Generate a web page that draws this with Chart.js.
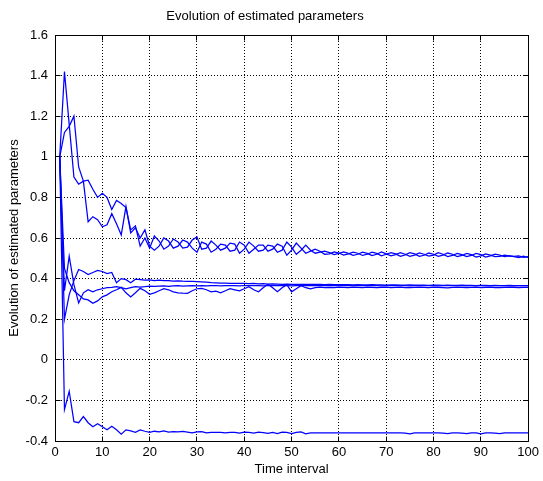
<!DOCTYPE html>
<html>
<head>
<meta charset="utf-8">
<title>Evolution of estimated parameters</title>
<script src="https://cdn.jsdelivr.net/npm/chart.js@4.4.1/dist/chart.umd.min.js"></script>
<style>
  html, body { margin: 0; padding: 0; background: #ffffff; }
  canvas { display: block; }
</style>
</head>
<body>
<canvas id="graficoParametros" width="543" height="481"></canvas>
<script>
// time steps (x axis)
const tempos = [
  1, 2, 3, 4, 5, 6, 7, 8, 9, 10, 11, 12, 13, 14, 15, 16, 17, 18, 19, 20,
  21, 22, 23, 24, 25, 26, 27, 28, 29, 30, 31, 32, 33, 34, 35, 36, 37, 38, 39, 40,
  41, 42, 43, 44, 45, 46, 47, 48, 49, 50, 51, 52, 53, 54, 55, 56, 57, 58, 59, 60,
  61, 62, 63, 64, 65, 66, 67, 68, 69, 70, 71, 72, 73, 74, 75, 76, 77, 78, 79, 80,
  81, 82, 83, 84, 85, 86, 87, 88, 89, 90, 91, 92, 93, 94, 95, 96, 97, 98, 99, 100
];

// parameter estimates
const param1 = [
  1.00, 1.42, 1.16, 0.90, 0.865, 0.88, 0.885, 0.84, 0.80, 0.82, 0.80, 0.74, 0.785, 0.77, 0.75, 0.64, 0.66, 0.56, 0.60, 0.55,
  0.61, 0.585, 0.545, 0.56, 0.595, 0.58, 0.55, 0.555, 0.59, 0.605, 0.545, 0.55, 0.585, 0.565, 0.54, 0.55, 0.575, 0.57, 0.525, 0.545,
  0.58, 0.56, 0.535, 0.54, 0.565, 0.56, 0.53, 0.54, 0.58, 0.555, 0.52, 0.54, 0.565, 0.54, 0.525, 0.53, 0.535, 0.528, 0.518, 0.524,
  0.532, 0.524, 0.515, 0.52, 0.53, 0.524, 0.513, 0.52, 0.531, 0.522, 0.512, 0.518, 0.528, 0.52, 0.51, 0.516, 0.527, 0.52, 0.511, 0.516,
  0.528, 0.52, 0.508, 0.514, 0.524, 0.518, 0.508, 0.514, 0.524, 0.518, 0.506, 0.512, 0.52, 0.516, 0.508, 0.512, 0.51, 0.512, 0.505, 0.508
];
const param2 = [
  1.00, 1.12, 1.15, 1.20, 0.95, 0.88, 0.68, 0.705, 0.69, 0.655, 0.665, 0.72, 0.67, 0.615, 0.755, 0.625, 0.65, 0.60, 0.64, 0.56,
  0.54, 0.56, 0.60, 0.585, 0.55, 0.56, 0.59, 0.58, 0.55, 0.53, 0.58, 0.57, 0.53, 0.545, 0.57, 0.565, 0.535, 0.54, 0.58, 0.565,
  0.525, 0.545, 0.565, 0.565, 0.535, 0.545, 0.57, 0.56, 0.515, 0.54, 0.575, 0.55, 0.525, 0.535, 0.545, 0.535, 0.52, 0.522, 0.532, 0.526,
  0.516, 0.522, 0.53, 0.525, 0.514, 0.52, 0.53, 0.524, 0.512, 0.52, 0.528, 0.522, 0.51, 0.517, 0.528, 0.522, 0.51, 0.515, 0.526, 0.52,
  0.51, 0.516, 0.526, 0.52, 0.508, 0.514, 0.524, 0.518, 0.506, 0.512, 0.522, 0.516, 0.508, 0.51, 0.516, 0.512, 0.508, 0.504, 0.51, 0.504
];
const param3 = [
  1.00, 0.20, 0.32, 0.39, 0.445, 0.435, 0.42, 0.43, 0.44, 0.435, 0.425, 0.43, 0.38, 0.40, 0.395, 0.38, 0.397, 0.395, 0.393, 0.394,
  0.39, 0.392, 0.39, 0.39, 0.388, 0.389, 0.387, 0.386, 0.386, 0.385, 0.384, 0.383, 0.38, 0.379, 0.378, 0.378, 0.377, 0.377, 0.376, 0.376,
  0.375, 0.376, 0.374, 0.375, 0.373, 0.374, 0.373, 0.372, 0.373, 0.372, 0.372, 0.371, 0.372, 0.371, 0.371, 0.371, 0.37, 0.371, 0.37, 0.37,
  0.37, 0.37, 0.369, 0.37, 0.369, 0.369, 0.37, 0.369, 0.369, 0.368, 0.369, 0.369, 0.368, 0.368, 0.369, 0.368, 0.368, 0.368, 0.367, 0.368,
  0.368, 0.367, 0.368, 0.367, 0.367, 0.368, 0.367, 0.367, 0.366, 0.367, 0.367, 0.366, 0.367, 0.366, 0.366, 0.367, 0.366, 0.366, 0.366, 0.366
];
const param4 = [
  1.00, 0.34, 0.51, 0.37, 0.28, 0.33, 0.345, 0.335, 0.345, 0.35, 0.355, 0.357, 0.36, 0.355, 0.35, 0.355, 0.36, 0.358, 0.36, 0.363,
  0.362, 0.363, 0.364, 0.362, 0.364, 0.365, 0.363, 0.364, 0.365, 0.364, 0.365, 0.364, 0.365, 0.366, 0.364, 0.365, 0.366, 0.365, 0.364, 0.366,
  0.365, 0.366, 0.365, 0.364, 0.366, 0.365, 0.366, 0.365, 0.366, 0.364, 0.365, 0.366, 0.365, 0.365, 0.366, 0.365, 0.365, 0.366, 0.365, 0.365,
  0.365, 0.366, 0.365, 0.365, 0.365, 0.366, 0.365, 0.365, 0.364, 0.365, 0.366, 0.365, 0.365, 0.365, 0.364, 0.365, 0.365, 0.366, 0.365, 0.365,
  0.364, 0.365, 0.365, 0.365, 0.366, 0.365, 0.364, 0.365, 0.365, 0.365, 0.364, 0.365, 0.365, 0.366, 0.365, 0.365, 0.364, 0.365, 0.365, 0.365
];
const param5 = [
  1.00, 0.45, 0.38, 0.34, 0.32, 0.30, 0.295, 0.278, 0.29, 0.31, 0.32, 0.335, 0.345, 0.357, 0.33, 0.31, 0.33, 0.352, 0.34, 0.323,
  0.33, 0.34, 0.35, 0.345, 0.335, 0.33, 0.328, 0.327, 0.34, 0.35, 0.352, 0.345, 0.335, 0.338, 0.33, 0.34, 0.35, 0.345, 0.34, 0.35,
  0.36, 0.345, 0.335, 0.355, 0.372, 0.355, 0.335, 0.355, 0.37, 0.335, 0.35, 0.365, 0.355, 0.35, 0.355, 0.358, 0.355, 0.357, 0.356, 0.358,
  0.357, 0.355, 0.358, 0.357, 0.356, 0.358, 0.357, 0.355, 0.357, 0.358, 0.356, 0.357, 0.358, 0.356, 0.355, 0.357, 0.358, 0.357, 0.356, 0.358,
  0.357, 0.356, 0.354, 0.357, 0.358, 0.357, 0.355, 0.357, 0.358, 0.356, 0.357, 0.358, 0.356, 0.355, 0.357, 0.358, 0.357, 0.356, 0.357, 0.357
];
const param6 = [
  1.00, -0.245, -0.155, -0.305, -0.31, -0.28, -0.31, -0.33, -0.315, -0.33, -0.345, -0.327, -0.345, -0.366, -0.345, -0.35, -0.357, -0.345, -0.352, -0.357,
  -0.352, -0.355, -0.35, -0.356, -0.354, -0.355, -0.353, -0.356, -0.36, -0.355, -0.354, -0.36, -0.357, -0.358, -0.357, -0.36, -0.358, -0.357, -0.361, -0.356,
  -0.358, -0.361, -0.356, -0.359, -0.362, -0.358, -0.363, -0.356, -0.358, -0.364, -0.358, -0.355, -0.365, -0.36, -0.36, -0.36, -0.36, -0.36, -0.36, -0.36,
  -0.36, -0.36, -0.36, -0.36, -0.36, -0.36, -0.36, -0.36, -0.36, -0.36, -0.36, -0.36, -0.36, -0.361, -0.365, -0.36, -0.36, -0.36, -0.36, -0.36,
  -0.36, -0.361, -0.364, -0.36, -0.36, -0.361, -0.364, -0.36, -0.36, -0.365, -0.36, -0.36, -0.361, -0.364, -0.36, -0.36, -0.36, -0.36, -0.36, -0.36
];

const series = [param1, param2, param3, param4, param5, param6];

// axis limits and tick steps
const xLimits = [0, 100];
const xStep = 10;
const yLimits = [-0.4, 1.6];
const yStep = 0.2;

function alignPx(p) {
  return Math.round(p - 0.5) + 0.5;
}

// MATLAB-like box with inward ticks on all four sides
const boxPlugin = {
  id: "matlabBox",
  afterDraw(chart) {
    const { ctx, chartArea: a, scales } = chart;
    const L = alignPx(a.left), R = alignPx(a.right), T = alignPx(a.top), B = alignPx(a.bottom);
    const tick = 5;
    ctx.save();
    ctx.strokeStyle = "#000000";
    ctx.lineWidth = 1;
    ctx.setLineDash([]);
    ctx.beginPath();
    ctx.rect(L, T, R - L, B - T);
    scales.x.ticks.forEach((t) => {
      const x = alignPx(scales.x.getPixelForValue(t.value));
      ctx.moveTo(x, B); ctx.lineTo(x, B - tick);
      ctx.moveTo(x, T); ctx.lineTo(x, T + tick);
    });
    scales.y.ticks.forEach((t) => {
      const y = alignPx(scales.y.getPixelForValue(t.value));
      ctx.moveTo(L, y); ctx.lineTo(L + tick, y);
      ctx.moveTo(R, y); ctx.lineTo(R - tick, y);
    });
    ctx.stroke();
    ctx.restore();
  },
};

document.addEventListener("DOMContentLoaded", () => {
  const ctx = document.getElementById("graficoParametros").getContext("2d");

  Chart.defaults.font.family = "'Liberation Sans', Arial, sans-serif";
  Chart.defaults.font.size = 13;
  Chart.defaults.color = "#000000";

  const gridStyle = {
    color: "#000000",
    lineWidth: 1,
    drawTicks: false,
  };

  new Chart(ctx, {
    type: "line",
    data: {
      datasets: series.map((valores, i) => ({
        label: "p" + (i + 1),
        data: valores.map((v, k) => ({ x: tempos[k], y: v })),
        borderColor: "#0000ff",
        borderWidth: 1.25,
        pointRadius: 0,
        tension: 0,
        fill: false,
      })),
    },
    options: {
      responsive: false,
      animation: false,
      layout: { padding: { left: 0, right: 13, top: 0, bottom: 0 } },
      plugins: {
        legend: { display: false },
        tooltip: { enabled: false },
        title: {
          display: true,
          text: "Evolution of estimated parameters",
          font: { size: 13, weight: "normal" },
          color: "#000000",
          padding: { top: 9, bottom: 10.4 },
        },
      },
      scales: {
        x: {
          type: "linear",
          min: xLimits[0],
          max: xLimits[1],
          grid: gridStyle,
          border: { display: false, dash: [1, 2] },
          ticks: { stepSize: xStep, padding: 4, maxRotation: 0, color: "#000000" },
          title: {
            display: true,
            text: "Time interval",
            color: "#000000",
            padding: { top: 0, bottom: 4 },
          },
          afterFit: (s) => { s.height = 40; },
        },
        y: {
          type: "linear",
          min: yLimits[0],
          max: yLimits[1],
          grid: gridStyle,
          border: { display: false, dash: [1, 2] },
          ticks: {
            stepSize: yStep,
            padding: 7,
            color: "#000000",
            callback: (v) => String(Math.round(v * 10) / 10),
          },
          title: {
            display: true,
            text: "Evolution of estimated parameters",
            color: "#000000",
            padding: { top: 7, bottom: 0 },
          },
          afterFit: (s) => { s.width = 55; },
        },
      },
    },
    plugins: [boxPlugin],
  });
});
</script>
</body>
</html>
